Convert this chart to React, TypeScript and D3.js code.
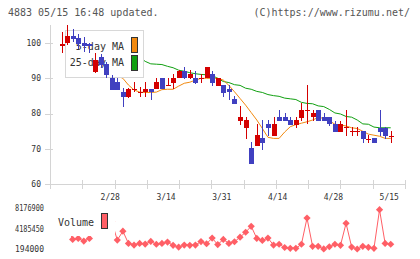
import React from "react"
import * as d3 from "d3"

// trading days shown (2025)
const dates = [
  "2/14", "2/17", "2/18", "2/19", "2/20", "2/21", "2/25", "2/26", "2/27", "2/28",
  "3/3", "3/4", "3/5", "3/6", "3/7", "3/10", "3/11", "3/12", "3/13", "3/14",
  "3/17", "3/18", "3/19", "3/21", "3/24", "3/25", "3/26", "3/27", "3/28", "3/31",
  "4/1", "4/2", "4/3", "4/4", "4/7", "4/8", "4/9", "4/10", "4/11", "4/14",
  "4/15", "4/16", "4/17", "4/18", "4/21", "4/22", "4/23", "4/24", "4/25", "4/28",
  "4/30", "5/1", "5/2", "5/7", "5/8", "5/9", "5/12", "5/13", "5/14", "5/15",
]

const opens = [
  99.2, 99.9, 102.0, 101.3, 99.9, 99.8, 91.9, 95.9, 94.1, 90.0,
  88.9, 86.2, 84.8, 86.8, 86.0, 86.0, 87.0, 86.9, 90.0, 88.0,
  88.8, 90.0, 92.1, 90.0, 90.2, 89.9, 90.0, 91.2, 87.9, 88.1,
  87.0, 84.1, 77.9, 75.8, 70.2, 70.9, 73.2, 77.1, 73.7, 79.0,
  79.0, 78.2, 76.8, 78.8, 80.9, 79.0, 81.0, 79.0, 79.0, 77.0,
  74.9, 76.2, 75.0, 75.0, 75.1, 72.7, 73.0, 76.0, 76.0, 73.6,
]
const highs = [
  103.2, 105.1, 104.0, 102.5, 101.8, 99.9, 97.1, 96.9, 94.5, 90.9,
  90.0, 87.2, 87.2, 89.0, 87.6, 88.9, 87.0, 90.0, 90.0, 90.2,
  91.2, 92.4, 93.3, 92.4, 92.1, 91.2, 93.3, 92.1, 90.0, 88.1,
  88.1, 85.0, 82.2, 79.1, 72.0, 77.1, 78.2, 78.2, 79.1, 81.0,
  80.3, 79.0, 79.0, 82.9, 88.1, 81.0, 81.0, 80.1, 79.0, 78.0,
  78.0, 81.0, 76.3, 76.3, 75.1, 73.9, 73.0, 81.0, 76.3, 75.1,
]
const lows = [
  97.1, 99.4, 100.4, 98.3, 97.5, 97.1, 91.4, 92.8, 90.0, 86.7,
  86.7, 82.0, 84.5, 86.2, 84.8, 84.8, 84.0, 86.9, 86.9, 87.9,
  86.9, 90.0, 89.8, 89.8, 88.4, 88.8, 90.0, 87.9, 87.9, 84.8,
  84.0, 82.7, 76.8, 72.8, 65.7, 70.9, 69.7, 73.7, 73.7, 78.0,
  78.0, 76.8, 76.0, 77.9, 77.0, 78.0, 77.9, 77.9, 76.5, 74.9,
  74.9, 73.7, 73.7, 73.7, 71.8, 71.8, 71.8, 73.7, 72.8, 71.8,
]
const closes = [
  99.7, 102.1, 101.0, 99.6, 99.2, 99.2, 95.2, 93.8, 90.9, 86.7,
  86.7, 84.8, 86.9, 86.9, 86.1, 87.0, 86.0, 88.9, 86.9, 88.1,
  90.2, 92.1, 90.0, 91.2, 88.8, 90.0, 93.1, 88.8, 90.0, 85.9,
  86.0, 82.7, 79.1, 78.2, 65.7, 73.9, 71.8, 76.0, 77.1, 78.0,
  78.0, 76.8, 78.2, 81.0, 81.0, 80.3, 77.9, 77.9, 77.0, 74.9,
  77.0, 76.3, 75.1, 75.1, 72.8, 72.8, 71.8, 74.9, 73.7, 73.7,
]

const ma5 = [
  null, null, null, null, 100.3, 100.2, 98.8, 97.4, 95.7, 93.2,
  90.7, 90.0, 88.1, 86.7, 86.1, 86.0, 86.0, 86.1, 86.8, 86.9,
  86.9, 87.8, 88.6, 88.9, 89.5, 90.0, 90.0, 90.0, 90.0, 89.5,
  88.0, 86.2, 84.3, 82.4, 80.3, 78.2, 75.8, 73.3, 73.0, 73.0,
  74.8, 76.3, 76.9, 77.3, 77.7, 78.2, 78.9, 78.7, 78.0, 77.0,
  76.8, 76.5, 76.0, 75.8, 75.0, 74.2, 73.9, 73.6, 73.0, 73.0,
]
const ma25 = [
  null, null, 100.5, 100.3, 100.0, 99.7, 99.3, 98.8, 98.3, 97.9,
  97.5, 97.1, 96.7, 96.3, 96.0, 94.8, 94.1, 94.0, 93.9, 93.4,
  93.0, 92.3, 92.0, 91.6, 91.3, 91.1, 91.0, 90.8, 90.0, 89.1,
  88.8, 88.2, 88.0, 87.2, 86.9, 86.3, 86.0, 85.4, 85.1, 84.9,
  84.4, 84.2, 84.0, 83.2, 82.9, 82.8, 82.2, 82.0, 81.2, 80.2,
  79.9, 79.2, 79.0, 78.2, 77.1, 77.0, 76.2, 76.0, 76.0, 76.0,
]

const volumes = [
  4500000, 5000000, 2080000, 2280000, 1750000, 2280000, 5500000, 6000000, 5200000, 5600000,
  1950000, 3700000, 1300000, 970000, 1300000, 1170000, 1690000, 1130000, 1300000, 1560000,
  910000, 580000, 970000, 910000, 970000, 1650000, 1230000, 2340000, 1070000, 2080000,
  1300000, 1620000, 2530000, 3500000, 4670000, 2280000, 1890000, 2340000, 970000, 1130000,
  490000, 330000, 330000, 1130000, 6290000, 720000, 720000, 200000, 640000, 1130000,
  910000, 5260000, 580000, 190000, 720000, 520000, 330000, 7940000, 1300000, 1130000,
]

const priceTicks = [60, 70, 80, 90, 100]
const dateLabels = ["2/28", "3/14", "3/31", "4/14", "4/28", "5/15"]
const volTicks = [194000, 4185450, 8176900]

const RED = "#d40000"
const BLUE = "#4040c0"
const ORANGE = "#f28a10"
const GREEN = "#11a011"
const VOL = "#ff5f66"
const AXIS = "#d4d4d4"
const TEXT = "#333"
const MONO = "'DejaVu Sans Mono', monospace"

export default function App() {
  const x = d3.scalePoint<string>().domain(dates).range([61.5, 390.7])
  const y = d3.scaleLinear().domain([60, 100]).range([184.3, 43])
  const yv = d3.scaleLinear().domain([194000, 8176900]).range([249, 208.5])
  const xt = d3.scaleLinear().domain([0, 11]).range([50, 405])

  const maLine = d3.line<number | null>()
    .defined(d => d != null)
    .x((_, i) => x(dates[i])!)
    .y(d => y(d as number))

  const volLine = d3.line<number>()
    .x((_, i) => x(dates[i])!)
    .y(d => yv(d))

  const diamond = "M0,-3.6L3.6,0L0,3.6L-3.6,0Z"

  return (
    <svg width={420} height={259} style={{position: "absolute", left: 0, top: 0, background: "#fff"}}
         fontFamily={MONO}>
      <rect width={420} height={259} fill="#fff"/>
      <text x={8} y={16} fontSize={10} fill="#555">4883 05/15 16:48 updated.</text>
      <text x={410} y={16} fontSize={10} fill="#555" textAnchor="end">(C)https://www.rizumu.net/</text>

      {/* axes */}
      <g shapeRendering="crispEdges">
        <line x1={50.5} x2={50.5} y1={25} y2={188} stroke={AXIS}/>
        <line x1={50} x2={405} y1={184.5} y2={184.5} stroke={AXIS}/>
        {priceTicks.map(t => (
          <line key={t} x1={45} x2={53} y1={Math.round(y(t)) + 0.5} y2={Math.round(y(t)) + 0.5} stroke={AXIS}/>
        ))}
        {d3.range(12).map(k => (
          <line key={k} x1={Math.round(xt(k)) + 0.5} x2={Math.round(xt(k)) + 0.5} y1={180} y2={189} stroke={AXIS}/>
        ))}
      </g>
      {priceTicks.map(t => (
        <text key={t} x={41} y={y(t)} dy="0.35em" fontSize={8} fill={TEXT} textAnchor="end">{t}</text>
      ))}
      {dateLabels.map(d => (
        <text key={d} x={x(d)! - 1.5} y={200} fontSize={8} fill={TEXT} textAnchor="middle">{d}</text>
      ))}

      {/* moving averages */}
      <path d={maLine(ma25) ?? ""} fill="none" stroke={GREEN} strokeWidth={1}/>
      <path d={maLine(ma5) ?? ""} fill="none" stroke={ORANGE} strokeWidth={1}/>

      {/* legend box (covers MA lines, candles drawn above) */}
      <rect x={65.5} y={30.5} width={78} height={47} fill="#fff" stroke="#d8d8d8" shapeRendering="crispEdges"/>
      <text x={124} y={50} fontSize={10} fill={TEXT} textAnchor="end">5-day MA</text>
      <text x={124} y={66} fontSize={10} fill={TEXT} textAnchor="end">25-day MA</text>
      <rect x={131.5} y={37.5} width={6} height={15} fill={ORANGE} stroke="#333" shapeRendering="crispEdges"/>
      <rect x={131.5} y={55.5} width={6} height={15} fill={GREEN} stroke="#333" shapeRendering="crispEdges"/>

      {/* candles */}
      <g shapeRendering="crispEdges">
        {dates.map((d, i) => {
          const cx = Math.round(x(d)!)
          const o = opens[i], c = closes[i]
          const col = c >= o ? RED : BLUE
          const top = Math.round(y(Math.max(o, c)))
          const bot = Math.round(y(Math.min(o, c)))
          return (
            <g key={d}>
              <rect x={cx} y={Math.round(y(highs[i]))} width={1}
                    height={Math.max(1, Math.round(y(lows[i])) - Math.round(y(highs[i])))} fill={col}/>
              <rect x={cx - 2} y={top} width={5} height={Math.max(1, bot - top)} fill={col}/>
            </g>
          )
        })}
      </g>

      {/* volume */}
      {volTicks.map(t => (
        <text key={t} x={15} y={yv(t)} dy="0.35em" fontSize={8} fill={TEXT}
              textLength={29} lengthAdjust="spacingAndGlyphs">{t}</text>
      ))}
      <path d={volLine(volumes) ?? ""} fill="none" stroke={VOL} strokeWidth={1}/>
      {volumes.map((v, i) => (
        <path key={i} d={diamond} transform={`translate(${x(dates[i])},${yv(v)})`} fill={VOL}/>
      ))}
      <rect x={53} y={205} width={62} height={31} fill="#fff"/>
      <text x={58} y={226} fontSize={10} fill={TEXT}>Volume</text>
      <rect x={101.5} y={213.5} width={6} height={15} fill={VOL} stroke="#333" shapeRendering="crispEdges"/>
    </svg>
  )
}
